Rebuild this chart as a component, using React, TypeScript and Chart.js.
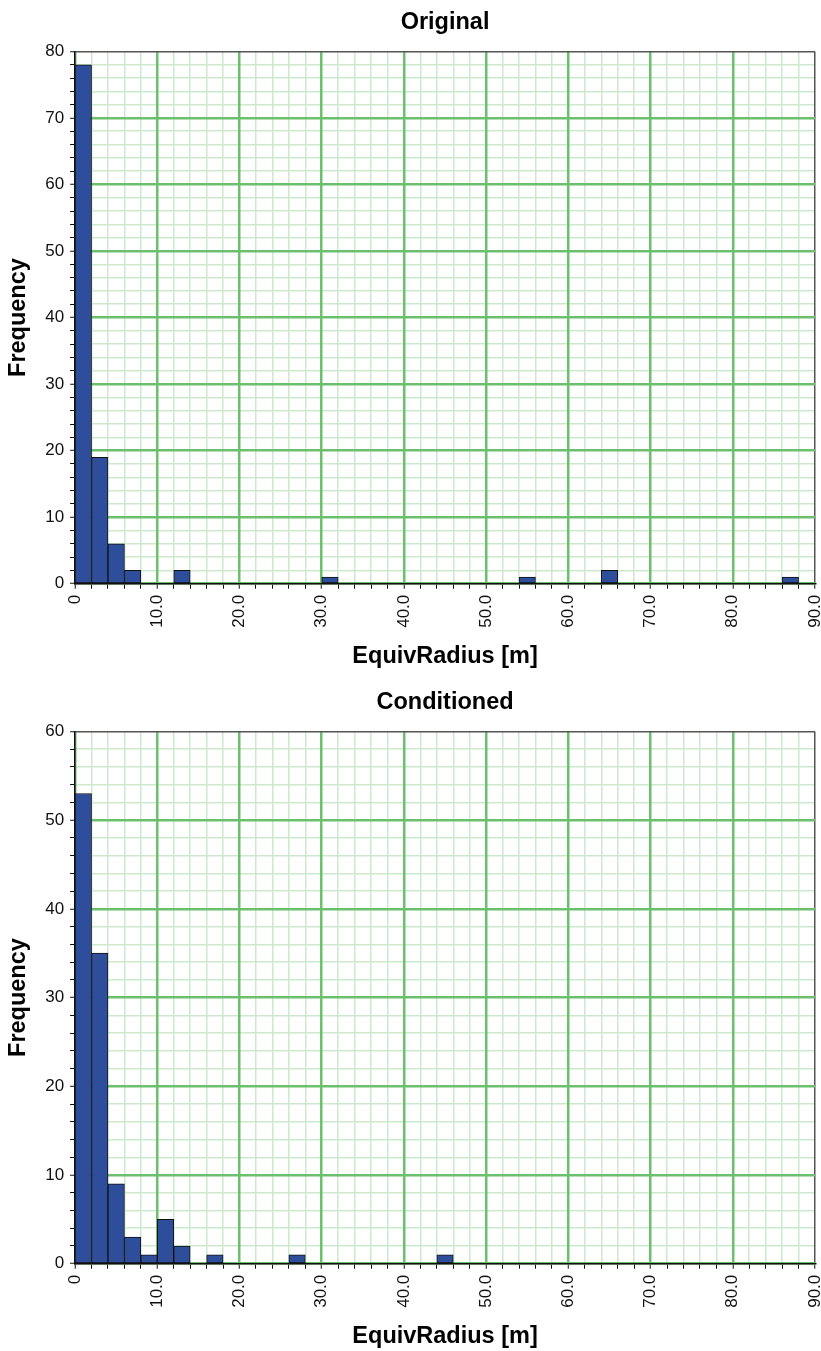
import React, { useEffect, useRef } from "react";
import { Chart, registerables } from "chart.js";

Chart.register(...registerables);

// Histogram bins: lower edges (m), bin width 2 m
const binStarts = [
  0, 2, 4, 6, 8, 10, 12, 14, 16, 18, 20, 22, 24, 26, 28, 30, 32, 34, 36, 38, 40, 42, 44,
  46, 48, 50, 52, 54, 56, 58, 60, 62, 64, 66, 68, 70, 72, 74, 76, 78, 80, 82, 84, 86, 88,
];
const BIN_WIDTH = 2;

const originalCounts = [
  78, 19, 6, 2, 0, 0, 2, 0, 0, 0, 0, 0, 0, 0, 0, 1, 0, 0, 0, 0, 0, 0, 0,
  0, 0, 0, 0, 1, 0, 0, 0, 0, 2, 0, 0, 0, 0, 0, 0, 0, 0, 0, 0, 1, 0,
];
const conditionedCounts = [
  53, 35, 9, 3, 1, 5, 2, 0, 1, 0, 0, 0, 0, 1, 0, 0, 0, 0, 0, 0, 0, 0, 1,
  0, 0, 0, 0, 0, 0, 0, 0, 0, 0, 0, 0, 0, 0, 0, 0, 0, 0, 0, 0, 0, 0,
];

const xTickValues = [0, 10, 20, 30, 40, 50, 60, 70, 80, 90];
const xTickLabels = ["0", "10.0", "20.0", "30.0", "40.0", "50.0", "60.0", "70.0", "80.0", "90.0"];

const FONT = "'Liberation Sans', Arial, Helvetica, sans-serif";
const MAJOR = "#6cbf6c";
const MINOR = "#cde9cd";
const FRAME = "#555555";
const BAR = "#2e4e9c";

function makeChart(canvas: HTMLCanvasElement, title: string, counts: number[], yMax: number, padBottom: number) {
  const data = binStarts.map((s, i) => ({ x: s + BIN_WIDTH / 2, y: counts[i] }));
  const xMax = 90;
  const everyTwo = (max: number) => (axis: any) => {
    const t: any[] = [];
    for (let v = 0; v <= max; v += 2) t.push({ value: v });
    axis.ticks = t;
  };
  const majorColor = (max: number) => (ctx: any) => {
    const v = ctx.tick ? ctx.tick.value : 0;
    if (v === max) return FRAME;
    return v % 10 === 0 ? MAJOR : "rgba(0,0,0,0)";
  };
  const majorWidth = (max: number) => (ctx: any) => {
    const v = ctx.tick ? ctx.tick.value : 0;
    if (v === max) return 1.5;
    return v % 10 === 0 ? 2.5 : 1;
  };
  const minorColor = (ctx: any) => {
    const v = ctx.tick ? ctx.tick.value : 0;
    return v % 10 === 0 ? "rgba(0,0,0,0)" : MINOR;
  };
  return new Chart(canvas, {
    type: "bar",
    data: {
      datasets: [
        {
          data,
          backgroundColor: BAR,
          borderColor: "#111111",
          borderWidth: 1,
          barPercentage: 1,
          categoryPercentage: 1,
          borderSkipped: false,
        } as any,
      ],
    },
    options: {
      animation: false,
      responsive: false,
      maintainAspectRatio: false,
      layout: { padding: { left: 4, right: 0, top: 0, bottom: padBottom } },
      plugins: {
        legend: { display: false },
        tooltip: { enabled: false },
        title: {
          display: true,
          fullSize: false,
          text: title,
          color: "#000",
          font: { family: FONT, size: 23.5, weight: "bold" },
          padding: { top: 8.6, bottom: 14.6 },
        },
      },
      scales: {
        xMinor: {
          type: "linear",
          position: "bottom",
          axis: "x",
          min: 0,
          max: xMax,
          offset: false,
          afterBuildTicks: everyTwo(xMax),
          ticks: { display: false },
          grid: { z: -2, offset: false, color: minorColor, lineWidth: 1.5, drawTicks: false },
          border: { display: false },
        },
        yMinor: {
          type: "linear",
          position: "left",
          axis: "y",
          min: 0,
          max: yMax,
          afterBuildTicks: everyTwo(yMax),
          ticks: { display: false },
          grid: { z: -2, color: minorColor, lineWidth: 1.5, drawTicks: false },
          border: { display: false },
        },
        x: {
          type: "linear",
          position: "bottom",
          min: 0,
          max: xMax,
          offset: false,
          afterBuildTicks: everyTwo(xMax),
          afterFit: (axis: any) => {
            axis.paddingRight = 6;
          },
          ticks: {
            autoSkip: false,
            maxRotation: 90,
            minRotation: 90,
            padding: 6,
            color: "#111",
            font: { family: FONT, size: 17 },
            callback: (v: any) => {
              const idx = xTickValues.indexOf(Number(v));
              return idx >= 0 ? xTickLabels[idx] : "";
            },
          },
          grid: {
            z: -1,
            offset: false,
            color: majorColor(xMax),
            lineWidth: majorWidth(xMax),
            tickColor: "#111",
            tickWidth: 1,
            tickLength: 5,
          },
          border: { display: true, color: "#111", width: 1.5 },
          title: {
            display: true,
            text: "EquivRadius [m]",
            color: "#000",
            font: { family: FONT, size: 23.5, weight: "bold" },
            padding: { top: 9, bottom: 0 },
          },
        },
        y: {
          type: "linear",
          position: "left",
          min: 0,
          max: yMax,
          afterBuildTicks: everyTwo(yMax),
          ticks: {
            autoSkip: false,
            padding: 6,
            color: "#111",
            font: { family: FONT, size: 17 },
            callback: (v: any) => (Number(v) % 10 === 0 ? String(v) : ""),
          },
          grid: {
            z: -1,
            color: majorColor(yMax),
            lineWidth: majorWidth(yMax),
            tickColor: "#111",
            tickWidth: 1,
            tickLength: 5,
          },
          border: { display: true, color: "#111", width: 1.5 },
          title: {
            display: true,
            text: "Frequency",
            color: "#000",
            font: { family: FONT, size: 23.5, weight: "bold" },
            padding: { top: 0, bottom: 7 },
          },
        },
      },
    } as any,
  });
}

function HistChart(props: { title: string; counts: number[]; yMax: number; height: number; padBottom: number }) {
  const ref = useRef<HTMLCanvasElement | null>(null);
  useEffect(() => {
    if (!ref.current) return;
    const c = makeChart(ref.current, props.title, props.counts, props.yMax, props.padBottom);
    return () => c.destroy();
  }, []);
  return (
    <div style={{ width: 821, height: props.height }}>
      <canvas ref={ref} width={821} height={props.height} style={{ display: "block" }} />
    </div>
  );
}

export default function App() {
  useEffect(() => {
    document.body.style.margin = "0";
  }, []);
  return (
    <div style={{ width: 821, background: "#fff" }}>
      <HistChart title="Original" counts={originalCounts} yMax={80} height={680} padBottom={9} />
      <HistChart title="Conditioned" counts={conditionedCounts} yMax={60} height={671} padBottom={0} />
    </div>
  );
}
